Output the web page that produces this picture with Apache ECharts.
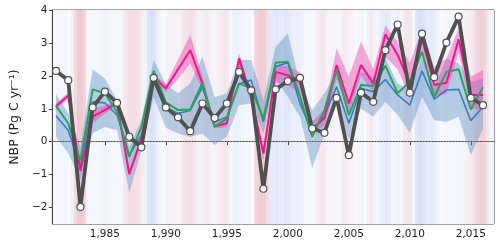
<!DOCTYPE html>
<html><head><meta charset="utf-8">
<script src="https://cdn.jsdelivr.net/npm/echarts@6/dist/echarts.min.js"></script>
<style>html,body{margin:0;padding:0;background:#fff}#c{width:500px;height:243px}</style>
</head><body><div id="c"></div>
<script>
const years = [1981,1982,1983,1984,1985,1986,1987,1988,1989,1990,1991,1992,1993,1994,1995,1996,1997,1998,1999,2000,2001,2002,2003,2004,2005,2006,2007,2008,2009,2010,2011,2012,2013,2014,2015,2016];
const observed = [2.15,1.87,-1.98,1.04,1.52,1.18,0.15,-0.17,1.94,1.04, 0.74,0.32,1.16,0.72,1.16,2.12,1.56,-1.43,1.59,1.84, 1.94,0.40,0.27,1.33,-0.41,1.49,1.21,2.78,3.56,1.49, 3.28,1.96,3.01,3.80,1.33,1.11];
const pinkMean = [1.08,1.40,-0.88,0.76,0.96,1.18,-0.98,0.10,1.97,1.62, 2.20,2.78,1.77,0.47,0.56,2.53,1.36,-0.36,2.12,2.02, 1.82,0.40,0.71,2.33,1.16,2.33,1.77,3.26,2.63,1.77, 3.14,1.72,1.79,3.11,1.42,1.42];
const pinkLow = [1.0,1.3,-0.95,0.55,0.85,1.1,-1.05,0.0,1.85,1.5, 1.9,2.38,1.55,0.4,0.45,2.2,1.2,-0.55,1.8,1.7, 1.5,0.25,0.5,1.9,0.87,2.0,1.5,2.58,2.2,1.35, 2.75,1.4,1.45,2.7,1.0,0.96];
const pinkHigh = [1.15,1.5,-0.8,1.0,1.1,1.25,-0.9,0.2,2.05,1.75, 2.5,3.24,2.0,0.55,0.7,2.69,1.5,-0.15,2.3,2.3, 2.1,0.6,1.0,2.84,1.97,3.04,2.2,3.54,3.04,2.39, 3.44,2.27,2.53,3.44,1.97,2.18];
const blueMean = [0.78,0.35,-0.76,1.21,1.18,0.81,-0.41,0.2,1.82,1.05, 0.86,0.95,1.65,0.60,0.75,1.75,1.87,0.6,2.28,2.4, 1.16,0.30,0.8,1.67,0.56,1.62,1.52,1.89,1.42,1.11, 2.15,1.29,1.57,1.59,0.64,1.06];
const blueLow = [0.15,-0.35,-1.17,0.26,0.45,0.35,-1.55,-0.26,1.36,0.42, 0.25,0.15,0.25,-0.1,0.15,1.11,1.16,0.25,1.92,1.36, 0.76,-0.81,0.25,1.16,0.05,1.01,0.76,1.21,0.81,0.27, 1.36,0.66,0.60,0.76,-0.41,0.40];
const blueHigh = [1.44,0.87,-0.15,2.2,1.92,1.26,-0.15,0.66,2.48,1.75, 1.47,1.77,2.58,1.36,1.47,2.48,2.48,1.26,2.88,3.29, 1.77,0.96,1.47,2.12,1.26,2.12,1.97,2.53,1.77,1.57, 2.58,1.62,2.53,2.38,1.82,1.92];
const greenMean = [1.08,0.56,-0.58,1.59,1.47,0.91,-0.46,0.45,2.15,1.2, 0.96,0.98,1.79,0.45,0.71,1.77,1.62,0.71,2.40,2.43, 1.36,0.15,0.96,2.18,0.81,1.72,1.69,2.31,1.47,1.82, 2.73,1.35,2.12,2.20,0.98,1.65];
// quarterly ENSO-like index (start year 1980, 4 values per year)
const ensoStart = 1980;
const ensoIndex = [
 0.1,0.1,0.05,0.05, -0.1,-0.1,-0.1,-0.05, 0.0,0.2,0.6,0.9, 0.9,0.7,0.1,-0.1,
 -0.1,-0.1,-0.1,-0.15, -0.2,-0.15,-0.1,-0.1, -0.05,0.05,0.3,0.4, 0.5,0.5,0.5,0.4,
 0.2,-0.2,-0.6,-0.7, -0.6,-0.3,-0.1,0.0, 0.1,0.15,0.15,0.15, 0.1,0.3,0.4,0.45,
 0.5,0.4,0.15,0.1, 0.2,0.3,0.2,0.1, 0.1,0.2,0.3,0.35, 0.3,0.05,-0.2,-0.25,
 -0.2,-0.15,-0.1,-0.1, 0.0,0.6,0.8,0.85, 0.8,0.5,-0.4,-0.5, -0.55,-0.45,-0.45,-0.55,
 -0.5,-0.35,-0.25,-0.3, -0.2,-0.1,-0.05,-0.1, 0.0,0.15,0.3,0.35, 0.25,0.1,0.1,0.1,
 0.1,0.1,0.25,0.2, 0.15,0.1,0.0,-0.1, -0.15,0.0,0.2,0.3, 0.1,-0.1,-0.3,-0.4,
 -0.5,-0.35,-0.1,-0.2, -0.25,0.05,0.3,0.4, 0.35,0.0,-0.6,-0.7, -0.6,-0.4,-0.4,-0.45,
 -0.3,-0.1,0.0,-0.05, -0.1,-0.1,-0.1,-0.1, -0.1,0.1,0.15,0.2, 0.25,0.5,0.7,0.8,
 0.7,0.4,-0.1,-0.1
];
const xTicks = [1985,1990,1995,2000,2005,2010,2015];
const yTicks = [-2,-1,0,1,2,3,4];

const X_MIN = 1980.7, X_MAX = 2016.9, Y_MIN = -2.5, Y_MAX = 4;
const FONT = 'DejaVu Sans';

function ensoColor(v){
  const t = Math.min(1, Math.abs(v)) * 0.42;
  const base = [247,249,253];
  const tgt = v >= 0 ? [228,125,140] : [150,172,235];
  const c = base.map((b,i)=>Math.round(b + (tgt[i]-b)*t));
  return 'rgb(' + c.join(',') + ')';
}

const ensoData = ensoIndex.map((v,i)=>[ensoStart + i*0.25, v]);

function bandSeries(lo, hi, color, z){
  return {
    type:'custom', silent:true, z:z, data:[[years[0], lo[0]]],
    renderItem:function(params, api){
      const pts = [];
      for (let i=0;i<years.length;i++) pts.push(api.coord([years[i], hi[i]]));
      for (let i=years.length-1;i>=0;i--) pts.push(api.coord([years[i], lo[i]]));
      return {type:'polygon', shape:{points:pts}, style:{fill:color}};
    }
  };
}
function lineSeries(vals, color, width, z){
  return {type:'line', data:years.map((y,i)=>[y, vals[i]]), showSymbol:false, symbol:'none',
    lineStyle:{color:color, width:width}, itemStyle:{color:color}, z:z, silent:true, animation:false};
}

const chart = echarts.init(document.getElementById('c'), null, {renderer:'canvas'});
chart.setOption({
  animation:false,
  grid:{left:47, right:6, top:10, bottom:19, show:true, borderColor:'#444', borderWidth:1, backgroundColor:'transparent'},
  xAxis:{type:'value', min:X_MIN, max:X_MAX, splitLine:{show:false},
    axisLine:{show:true, lineStyle:{color:'#444'}},
    axisTick:{show:true, inside:false, length:3.5, lineStyle:{color:'#444'}, customValues:xTicks},
    axisLabel:{customValues:xTicks, color:'#222', fontFamily:FONT, fontSize:10.5, margin:5}},
  yAxis:{type:'value', min:Y_MIN, max:Y_MAX, splitLine:{show:false},
    axisLine:{show:true, lineStyle:{color:'#444'}},
    axisTick:{show:true, inside:false, length:3.5, lineStyle:{color:'#444'}, customValues:yTicks},
    axisLabel:{customValues:yTicks, color:'#222', fontFamily:FONT, fontSize:10.5, margin:5,
      formatter:v=>String(v).replace('-','\u2212')},
    name:'NBP (Pg C yr\u207B\u00B9)', nameLocation:'middle', nameGap:28, nameRotate:90,
    nameTextStyle:{color:'#222', fontFamily:FONT, fontSize:12.5}},
  series:[
    {type:'custom', silent:true, z:0, data:ensoData,
      renderItem:function(params, api){
        const x0 = api.value(0), v = api.value(1);
        const p0 = api.coord([x0, Y_MAX]);
        const p1 = api.coord([x0+0.25, Y_MIN]);
        const cs = params.coordSys;
        const r = echarts.graphic.clipRectByRect({x:Math.floor(p0[0]), y:p0[1], width:Math.ceil(p1[0])-Math.floor(p0[0])+1, height:p1[1]-p0[1]},
          {x:cs.x, y:cs.y, width:cs.width, height:cs.height});
        if (!r) return null;
        return {type:'rect', shape:r, style:{fill:ensoColor(v)}};
      }},
    {type:'line', data:[], silent:true, z:1,
      markLine:{silent:true, symbol:'none', label:{show:false}, animation:false,
        lineStyle:{color:'#999', type:[1.5,1.5], width:1}, data:[{yAxis:0}]}},
    bandSeries(blueLow, blueHigh, 'rgba(80,135,190,0.38)', 2),
    bandSeries(pinkLow, pinkHigh, 'rgba(238,70,175,0.45)', 3),
    lineSeries(blueMean, '#3b7cc0', 1.6, 4),
    lineSeries(pinkMean, '#f5148c', 2, 5),
    lineSeries(greenMean, '#27a35a', 2, 6),
    {type:'line', data:years.map((y,i)=>[y, observed[i]]), z:7, silent:true,
      lineStyle:{color:'#505050', width:3.8}, symbol:'circle', symbolSize:7, showSymbol:true,
      itemStyle:{color:'#fff', borderColor:'#505050', borderWidth:1.2}}
  ]
});
</script></body></html>
